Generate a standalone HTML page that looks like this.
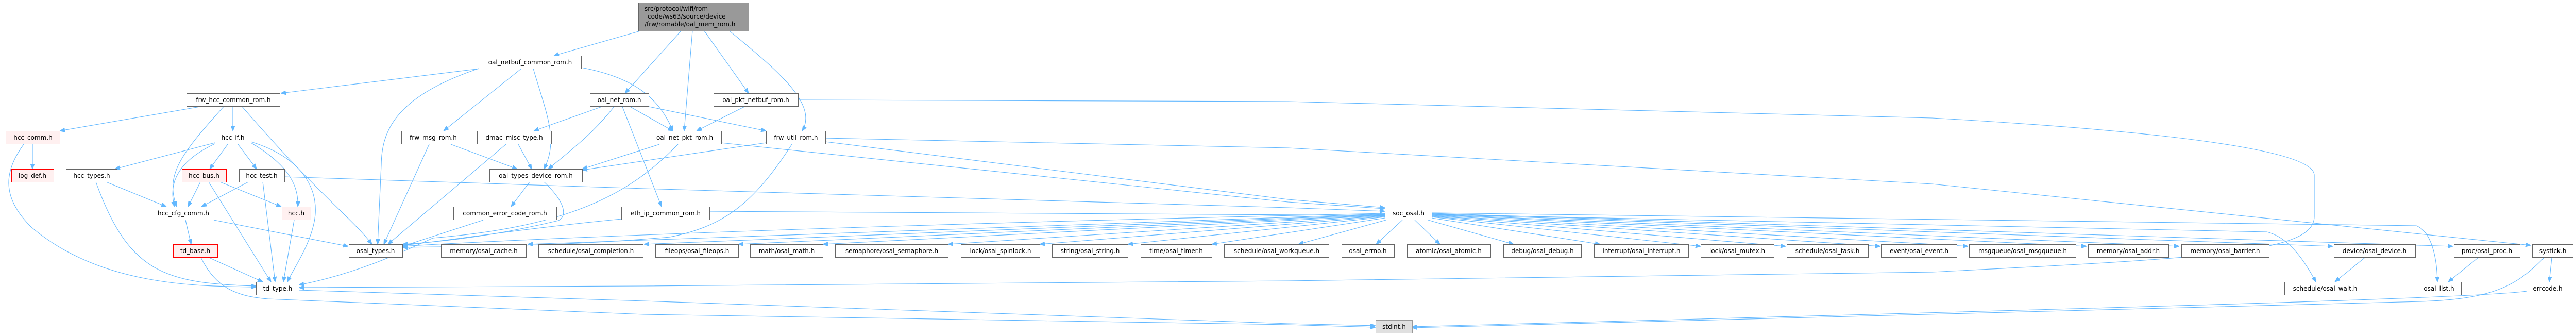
<!DOCTYPE html>
<html><head><meta charset="utf-8"><style>
html,body{margin:0;padding:0;background:#fff;}
svg{display:block;}
text{font-family:"DejaVu Sans","Liberation Sans",sans-serif;font-size:12px;fill:#000;}
.n{fill:#fff;stroke:#666;stroke-width:1;}
.r{fill:#fff0f0;stroke:#f00;stroke-width:1;}
.g{fill:#e0e0e0;stroke:#999;stroke-width:1;}
.e{fill:none;stroke:#63b8ff;stroke-width:1.1;}
</style></head><body>
<svg width="5003" height="652" viewBox="0 0 5003 652" xmlns="http://www.w3.org/2000/svg">
<defs><marker id="a" viewBox="0 0 10 8" refX="10" refY="4" markerWidth="10" markerHeight="8" markerUnits="userSpaceOnUse" orient="auto"><path d="M0,0 L10,4 L0,8 z" fill="#63b8ff" stroke="#63b8ff"/></marker></defs>
<g marker-end="url(#a)" class="e">
<!-- top -->
<path class="e" d="M1250,58 L1075,108"/>
<path class="e" d="M1322,60 L1213,181"/>
<path class="e" d="M1344,60 L1328,254"/>
<path class="e" d="M1367,60 L1453,181"/>
<path class="e" d="M1416,60 C1500,130 1590,200 1557,254"/>
<!-- oal_netbuf_common -->
<path class="e" d="M933,133 L545,181"/>
<path class="e" d="M929,133 C760,190 741,260 740,320 L733,474"/>
<path class="e" d="M1012,133 L861,254"/>
<path class="e" d="M1035,133 C1060,220 1085,270 1056,328"/>
<path class="e" d="M1128,131 C1230,150 1280,190 1306,254"/>
<!-- frw_hcc_common -->
<path class="e" d="M388,207 L116,254"/>
<path class="e" d="M452,207 L452,254"/>
<path class="e" d="M434,207 C350,300 320,340 343,401"/>
<path class="e" d="M470,207 C620,380 680,420 722,474"/>
<!-- hcc_comm -->
<path class="e" d="M63,280 L63,328"/>
<path class="e" d="M46,280 C10,330 0,380 60,440 C200,560 400,555 497,557"/>
<!-- hcc_if -->
<path class="e" d="M417,277 L223,328"/>
<path class="e" d="M442,280 L407,328"/>
<path class="e" d="M462,280 L498,328"/>
<path class="e" d="M487,277 C560,320 580,360 578,401"/>
<path class="e" d="M487,275 C600,310 620,380 610,430 C600,480 570,520 558,547"/>
<path class="e" d="M417,279 C330,320 330,370 339,401"/>
<!-- row4 -->
<path class="e" d="M206,353 L323,401"/>
<path class="e" d="M186,353 C250,530 320,550 497,555"/>
<path class="e" d="M389,353 L365,401"/>
<path class="e" d="M427,353 L546,401"/>
<path class="e" d="M405,353 L526,547"/>
<path class="e" d="M482,353 L391,401"/>
<path class="e" d="M510,353 L534,547"/>
<path class="e" d="M552,343 L1250,366 L2500,403 L2688,410"/>
<!-- row5 -->
<path class="e" d="M360,427 L371,474"/>
<path class="e" d="M415,427 L676,478"/>
<path class="e" d="M571,427 L550,547"/>
<path class="e" d="M406,500 L510,547"/>
<path class="e" d="M390,500 C420,560 460,575 520,580 L1250,610 L2500,630 L2670,635"/>
<path class="e" d="M580,563 L1250,584 L2500,628 L2670,632"/>
<!-- frw_msg / dmac / oal_types_device -->
<path class="e" d="M833,280 L745,474"/>
<path class="e" d="M875,280 L1004,328"/>
<path class="e" d="M1006,280 L1032,328"/>
<path class="e" d="M982,280 L753,474"/>
<path class="e" d="M1028,353 L992,401"/>
<path class="e" d="M1056,353 C1100,395 1100,420 1084,428 C950,460 850,470 781,474"/>
<path class="e" d="M938,427 L781,478"/>
<!-- oal_net_rom -->
<path class="e" d="M1168,207 L1036,254"/>
<path class="e" d="M1192,207 C1150,260 1110,290 1064,328"/>
<path class="e" d="M1208,207 L1284,401"/>
<path class="e" d="M1223,207 L1306,254"/>
<path class="e" d="M1255,206 L1487,254"/>
<!-- oal_net_pkt_rom -->
<path class="e" d="M1280,280 L1130,328"/>
<path class="e" d="M1316,280 C1220,380 1100,440 840,462 C800,480 700,530 580,553"/>
<path class="e" d="M1399,277 L2500,392 L2688,405"/>
<!-- oal_pkt_netbuf -->
<path class="e" d="M1445,207 L1352,254"/>
<path class="e" d="M1549,194 L2500,197 L3750,229 C4300,260 4492,300 4492,340 L4492,420 C4492,490 4300,500 3750,528 L2500,545 L1250,555 L580,558"/>
<!-- frw_util -->
<path class="e" d="M1487,277 L1130,330"/>
<path class="e" d="M1537,280 C1460,400 1400,440 1300,460 C1100,478 900,478 781,480"/>
<path class="e" d="M1602,275 L2500,387 L2688,403"/>
<path class="e" d="M1602,268 L2500,287 L3750,357 L4912,476"/>
<!-- eth -->
<path class="e" d="M1206,425 C1000,445 850,470 781,476"/>
<path class="e" d="M1377,410 L2688,418"/>
<!-- soc_osal outgoing -->
<path class="e" d="M2688,414 C1500,440 900,470 781,478"/>
<path class="e" d="M2688,415 L1024,474"/>
<path class="e" d="M2688,416 L1250,474"/>
<path class="e" d="M2688,417 L1433,474"/>
<path class="e" d="M2688,418 L1597,474"/>
<path class="e" d="M2688,419 L1840,474"/>
<path class="e" d="M2688,420 L2018,474"/>
<path class="e" d="M2688,421 L2189,474"/>
<path class="e" d="M2688,423 L2352,474"/>
<path class="e" d="M2690,427 L2520,474"/>
<path class="e" d="M2722,427 L2671,474"/>
<path class="e" d="M2746,427 L2795,474"/>
<path class="e" d="M2772,427 L2938,474"/>
<path class="e" d="M2779,423 L3106,474"/>
<path class="e" d="M2779,421 L3301,478"/>
<path class="e" d="M2779,420 L3466,478"/>
<path class="e" d="M2779,419 L3650,478"/>
<path class="e" d="M2779,418 L3820,478"/>
<path class="e" d="M2779,417 L4050,478"/>
<path class="e" d="M2779,416 L4230,478"/>
<path class="e" d="M2779,415 L4528,478"/>
<path class="e" d="M2779,414 L4761,478"/>
<path class="e" d="M2779,416 L4400,450 C4440,460 4470,500 4495,547"/>
<path class="e" d="M2779,413 L4690,438 C4720,450 4730,500 4731,547"/>
<!-- bottom -->
<path class="e" d="M4590,500 L4532,547"/>
<path class="e" d="M4810,500 L4752,547"/>
<path class="e" d="M4953,500 L4948,547"/>
<path class="e" d="M4904,565 C4800,580 4000,600 2741,634"/>
<path class="e" d="M4938,500 C4880,560 4830,580 4700,585 L2741,636"/>
</g>
<!-- nodes -->
<rect x="1239.5" y="5.5" width="214" height="55" fill="#999" stroke="#666"/>
<text x="1251" y="21">src/protocol/wifi/rom</text>
<text x="1251" y="36">_code/ws63/source/device</text>
<text x="1251" y="51">/frw/romable/oal_mem_rom.h</text>
<g text-anchor="middle">
<rect class="n" x="929.5" y="108.5" width="199" height="25"/><text x="1029" y="125">oal_netbuf_common_rom.h</text>
<rect class="n" x="362.5" y="181.5" width="181" height="25"/><text x="453" y="198">frw_hcc_common_rom.h</text>
<rect class="n" x="1145.5" y="181.5" width="114" height="25"/><text x="1202" y="198">oal_net_rom.h</text>
<rect class="n" x="1385.5" y="181.5" width="164" height="25"/><text x="1467" y="198">oal_pkt_netbuf_rom.h</text>
<rect class="r" x="11.5" y="254.5" width="105" height="25"/><text x="64" y="271">hcc_comm.h</text>
<rect class="n" x="417.5" y="254.5" width="70" height="25"/><text x="452" y="271">hcc_if.h</text>
<rect class="n" x="779.5" y="254.5" width="123" height="25"/><text x="841" y="271">frw_msg_rom.h</text>
<rect class="n" x="926.5" y="254.5" width="144" height="25"/><text x="998" y="271">dmac_misc_type.h</text>
<rect class="n" x="1257.5" y="254.5" width="143" height="25"/><text x="1329" y="271">oal_net_pkt_rom.h</text>
<rect class="n" x="1487.5" y="254.5" width="115" height="25"/><text x="1545" y="271">frw_util_rom.h</text>
<rect class="r" x="22.5" y="328.5" width="82" height="25"/><text x="63" y="345">log_def.h</text>
<rect class="n" x="128.5" y="328.5" width="99" height="25"/><text x="178" y="345">hcc_types.h</text>
<rect class="r" x="353.5" y="328.5" width="86" height="25"/><text x="396" y="345">hcc_bus.h</text>
<rect class="n" x="464.5" y="328.5" width="88" height="25"/><text x="508" y="345">hcc_test.h</text>
<rect class="n" x="950.5" y="328.5" width="180" height="25"/><text x="1040" y="345">oal_types_device_rom.h</text>
<rect class="n" x="291.5" y="401.5" width="130" height="25"/><text x="356" y="418">hcc_cfg_comm.h</text>
<rect class="r" x="547.5" y="401.5" width="56" height="25"/><text x="575" y="418">hcc.h</text>
<rect class="n" x="880.5" y="401.5" width="200" height="25"/><text x="980" y="418">common_error_code_rom.h</text>
<rect class="n" x="1206.5" y="401.5" width="171" height="25"/><text x="1292" y="418">eth_ip_common_rom.h</text>
<rect class="n" x="2688.5" y="401.5" width="91" height="25"/><text x="2734" y="418">soc_osal.h</text>
<rect class="r" x="336.5" y="474.5" width="86" height="25"/><text x="379" y="491">td_base.h</text>
<rect class="n" x="677.5" y="474.5" width="104" height="25"/><text x="729" y="491">osal_types.h</text>
<rect class="n" x="856.5" y="474.5" width="165" height="25"/><text x="939" y="491">memory/osal_cache.h</text>
<rect class="n" x="1045.5" y="474.5" width="203" height="25"/><text x="1147" y="491">schedule/osal_completion.h</text>
<rect class="n" x="1272.5" y="474.5" width="161" height="25"/><text x="1353" y="491">fileops/osal_fileops.h</text>
<rect class="n" x="1456.5" y="474.5" width="141" height="25"/><text x="1527" y="491">math/osal_math.h</text>
<rect class="n" x="1621.5" y="474.5" width="219" height="25"/><text x="1731" y="491">semaphore/osal_semaphore.h</text>
<rect class="n" x="1865.5" y="474.5" width="153" height="25"/><text x="1942" y="491">lock/osal_spinlock.h</text>
<rect class="n" x="2042.5" y="474.5" width="147" height="25"/><text x="2116" y="491">string/osal_string.h</text>
<rect class="n" x="2214.5" y="474.5" width="138" height="25"/><text x="2283" y="491">time/osal_timer.h</text>
<rect class="n" x="2376.5" y="474.5" width="203" height="25"/><text x="2478" y="491">schedule/osal_workqueue.h</text>
<rect class="n" x="2604.5" y="474.5" width="102" height="25"/><text x="2655" y="491">osal_errno.h</text>
<rect class="n" x="2731.5" y="474.5" width="162" height="25"/><text x="2812" y="491">atomic/osal_atomic.h</text>
<rect class="n" x="2918.5" y="474.5" width="151" height="25"/><text x="2994" y="491">debug/osal_debug.h</text>
<rect class="n" x="3094.5" y="474.5" width="183" height="25"/><text x="3186" y="491">interrupt/osal_interrupt.h</text>
<rect class="n" x="3301.5" y="474.5" width="142" height="25"/><text x="3372" y="491">lock/osal_mutex.h</text>
<rect class="n" x="3468.5" y="474.5" width="158" height="25"/><text x="3547" y="491">schedule/osal_task.h</text>
<rect class="n" x="3651.5" y="474.5" width="147" height="25"/><text x="3725" y="491">event/osal_event.h</text>
<rect class="n" x="3822.5" y="474.5" width="207" height="25"/><text x="3926" y="491">msgqueue/osal_msgqueue.h</text>
<rect class="n" x="4053.5" y="474.5" width="156" height="25"/><text x="4131" y="491">memory/osal_addr.h</text>
<rect class="n" x="4234.5" y="474.5" width="170" height="25"/><text x="4319" y="491">memory/osal_barrier.h</text>
<rect class="n" x="4530.5" y="474.5" width="158" height="25"/><text x="4609" y="491">device/osal_device.h</text>
<rect class="n" x="4763.5" y="474.5" width="128" height="25"/><text x="4827" y="491">proc/osal_proc.h</text>
<rect class="n" x="4915.5" y="474.5" width="79" height="25"/><text x="4955" y="491">systick.h</text>
<rect class="n" x="497.5" y="547.5" width="83" height="25"/><text x="539" y="564">td_type.h</text>
<rect class="n" x="4434.5" y="547.5" width="158" height="25"/><text x="4513" y="564">schedule/osal_wait.h</text>
<rect class="n" x="4691.5" y="547.5" width="86" height="25"/><text x="4734" y="564">osal_list.h</text>
<rect class="n" x="4904.5" y="547.5" width="82" height="25"/><text x="4945" y="564">errcode.h</text>
<rect class="g" x="2670.5" y="621.5" width="71" height="25"/><text x="2706" y="638">stdint.h</text>
</g>
</svg>
</body></html>
